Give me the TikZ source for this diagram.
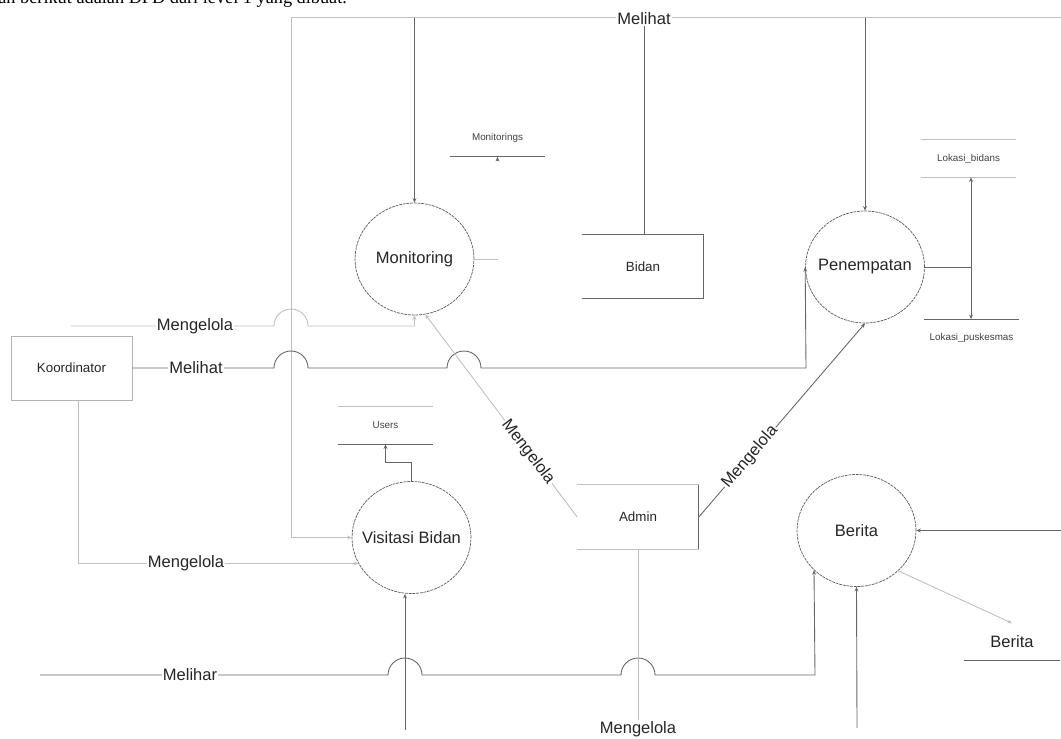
\documentclass[tikz,border=0pt]{standalone}
\usepackage{fontspec}
\setmainfont{Liberation Sans}
\newfontfamily\capfont{Liberation Serif}
\usetikzlibrary{shapes.geometric,arrows.meta}

\begin{document}
\begin{tikzpicture}[x=0.02cm,y=-0.02cm,
  flow/.style={draw=black!60,line width=0.5pt},
  lite/.style={draw=black!25,line width=0.5pt},
  arr/.style={-{Stealth[length=2.6pt,width=2.2pt]}},
  proc/.style={ellipse,draw=black!65,dash pattern=on 1.6pt off 0.5pt,line width=0.4pt,
    minimum width=2.38cm,minimum height=2.24cm,inner sep=0pt,
    font=\fontsize{9.4}{11}\selectfont,text=black!85},
  entitas/.style={minimum width=2.42cm,minimum height=1.28cm,inner sep=0pt,
    font=\fontsize{7.6}{9}\selectfont,text=black!85},
  store/.style={minimum width=1.9cm,minimum height=0.74cm,inner sep=0pt,
    font=\fontsize{5.6}{7}\selectfont,text=black!75},
  lbl/.style={fill=white,inner sep=0.6pt,font=\fontsize{9.4}{11}\selectfont,text=black!85}]
          \useasboundingbox (0,0) rectangle (1061,738);
          \node[anchor=base west,inner sep=0pt,font=\capfont\fontsize{10.4}{12}\selectfont] (judul) at (-2,3.5) {an berikut adalah DFD dari level 1 yang dibuat.};

          \node[proc] (monitoring) at (414.5,259) {\makebox[0pt]{Monitoring}};
          \node[proc] (penempatan) at (865,267) {\makebox[0pt]{Penempatan}};
          \node[proc] (visitasi) at (411.5,537.5) {\makebox[0pt]{Visitasi Bidan}};
          \node[proc] (berita) at (856.5,530.5) {\makebox[0pt]{Berita}};

          \node[entitas,draw=black!30] (koordinator) at (71.5,368) {Koordinator};
          \node[entitas] (bidan) at (643,266.5) {Bidan};
          \node[entitas] (admin) at (638,517) {Admin};
          \draw[flow] (bidan.north west) -- (bidan.north east) -- (bidan.south east) -- (bidan.south west);
          \draw[lite] (admin.north west) -- (admin.north east);
          \draw[flow] (admin.north east) -- (admin.south east);
          \draw[lite] (admin.south east) -- (admin.south west);

          \node[store] (mons) at (497.5,138) {Monitorings};
          \node[store] (users) at (385.5,425.5) {Users};
          \node[store] (lokb) at (968.5,158.5) {Lokasi\_bidans};
          \node[store] (lokp) at (971.5,338) {Lokasi\_puskesmas};
          \node[store,font=\fontsize{9.4}{11}\selectfont,text=black!85] (brs) at (1012,642) {Berita};
          \draw[flow] (mons.south west) -- (mons.south east);
          \draw[lite] (users.north west) -- (users.north east);
          \draw[flow] (users.south west) -- (users.south east);
          \draw[lite] (lokb.north west) -- (lokb.north east);
          \draw[lite] (lokb.south west) -- (lokb.south east);
          \draw[flow] (lokp.north west) -- (lokp.north east);
          \draw[flow] (brs.south west) -- (brs.south east);

          \coordinate (atas) at (291,17.5);
          \coordinate (kanan) at (1061,17.5);
          \coordinate (k1) at (71,326);
          \coordinate (k2) at (40,675);
          \coordinate (b1) at (405,730);
          \coordinate (b2) at (857,728);
          \coordinate (b3) at (1061,530.5);
          \coordinate (pj) at (971,267);

          \draw[lite] (atas) -- (kanan);
          \draw[lite,arr] (atas) |- (visitasi.west);
          \draw[flow,arr] (monitoring.north |- atas) -- (monitoring.north);
          \draw[flow,arr] (penempatan.north |- atas) -- (penempatan.north);
          \draw[lite] (monitoring.east) -- ++(24,0);
          \draw[flow,arr] (mons.south) ++(0,3) -- (mons.south);
          \draw[flow] (penempatan.east) -- (pj);
          \draw[flow,arr] (pj) -- (pj |- lokb.south);
          \draw[flow,arr] (pj) -- (pj |- lokp.north);

          \draw[lite,arr] (k1) -- (274,326) arc (180:360:17) -- (414.5,326) -- (monitoring.south);
          \draw[flow,arr] (koordinator.east) -- (274,368) arc (180:360:17) -- (447,368) arc (180:360:17) -- (806,368) -- (penempatan.west);
          \draw[lite,arr] ([xshift=0.13cm]koordinator.south) |- (visitasi.206);

          \draw[lite,arr] (admin.west) -- (monitoring.-79);
          \draw[flow,arr] (admin.east) -- (penempatan.south);

          \draw[flow,arr] (k2) -- (388,675) arc (180:360:17) -- (621,675) arc (180:360:17) -- (815,675) -- (berita.223);
          \draw[flow,arr] (b1) -- (b1 |- visitasi.south);
          \draw[flow,arr] (b2) -- (berita.south);
          \draw[flow,arr] (b3) -- (berita.east);
          \draw[lite,arr] (berita.-44) -- (brs.north);
          \draw[flow,arr] (visitasi.north) -- ++(0,-19) -| (users.south);

          \node[lbl] (melihat) at (644,19) {Melihat};
          \draw[flow] (melihat.south) -- (melihat.south |- bidan.north);
          \node[lbl] (m1) at (195,326) {Mengelola};
          \node[lbl] (m2) at (196,368) {Melihat};
          \node[lbl] (m3) at (186,563) {Mengelola};
          \node[lbl,rotate=-52.6] (m4) at (528,452) {Mengelola};
          \node[lbl,rotate=49.4] (m5) at (750,457) {Mengelola};
          \node[lbl,fill=none] (m6) at (638,729) {Mengelola};
          \draw[lite] (admin.south) -- (m6.north);
          \node[lbl] (m7) at (190,675) {Melihar};
        \end{tikzpicture}
\end{document}
